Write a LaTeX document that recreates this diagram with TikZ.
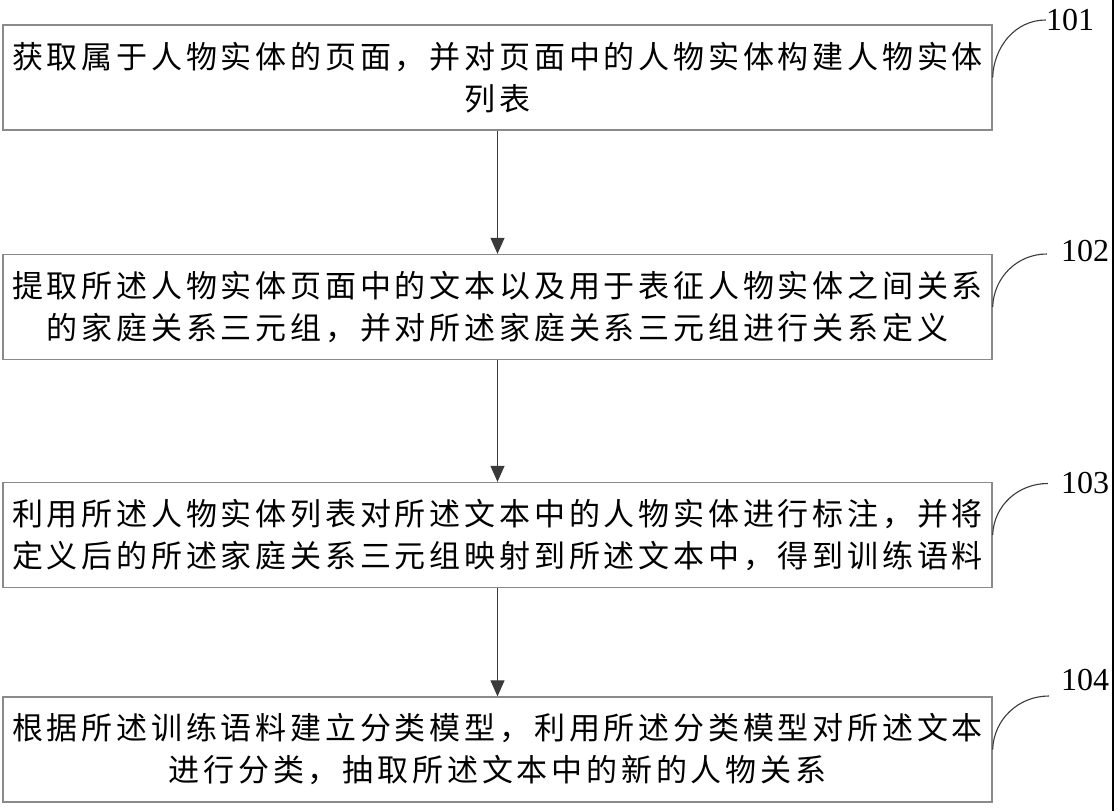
\documentclass[tikz,border=0pt]{standalone}
\usepackage{fontspec}
\setmainfont{Liberation Serif}
\newfontfamily\cjk{Noto Sans CJK SC}[LetterSpace=12.3]
\usetikzlibrary{arrows.meta}
\definecolor{boxGray}{HTML}{8A8A8A}
\definecolor{lineDark}{HTML}{3A3A3A}

\begin{document}
\begin{tikzpicture}[x=1pt, y=-1pt,
  every node/.style={align=center},
  stepbox/.style={
    draw=boxGray,
    line width=1.3pt,
    minimum width=989pt,
    minimum height=105pt,
    inner sep=0pt,
    font=\fontsize{31}{42}\selectfont\cjk
  },
  steplbl/.style={
    font=\fontsize{32}{32}\selectfont,
    inner sep=0pt
  },
  link/.style={draw=lineDark, line width=1.1pt, -{Triangle[width=14pt,length=16pt]}},
  tagline/.style={draw=lineDark, line width=1.1pt}
]
\useasboundingbox (0,0) rectangle (1118,811);

\node[stepbox] (page) at (497.5,77.5)
{获取属于人物实体的页面，并对页面中的人物实体构建人物实体\\列表};
\node[stepbox] (triple) at (497.5,307)
{提取所述人物实体页面中的文本以及用于表征人物实体之间关系\\的家庭关系三元组，并对所述家庭关系三元组进行关系定义};
\node[stepbox] (corpus) at (497.5,535)
{利用所述人物实体列表对所述文本中的人物实体进行标注，并将\\定义后的所述家庭关系三元组映射到所述文本中，得到训练语料};
\node[stepbox] (model) at (497.5,749.5)
{根据所述训练语料建立分类模型，利用所述分类模型对所述文本\\进行分类，抽取所述文本中的新的人物关系};

\node[steplbl] (n101) at (1070,20) {101};
\node[steplbl] (n102) at (1085,251) {102};
\node[steplbl] (n103) at (1085,483.5) {103};
\node[steplbl] (n104) at (1085,680) {104};

\draw[link] (page.south) -- (triple.north);
\draw[link] (triple.south) -- (corpus.north);
\draw[link] (corpus.south) -- (model.north);

\draw[tagline] (page.east) to[out=88, in=180] (n101.west);
\draw[tagline] (triple.east) to[out=88, in=180] ([shift={(-14,3)}]n102.west);
\draw[tagline] (corpus.east) to[out=88, in=180] ([shift={(-13,0)}]n103.west);
\draw[tagline] (model.east) to[out=88, in=180] ([shift={(-12,16)}]n104.west);

% frame edge on the right
\draw[black, line width=1.5pt] (1113,0) -- (1113,811);

\end{tikzpicture}
\end{document}
